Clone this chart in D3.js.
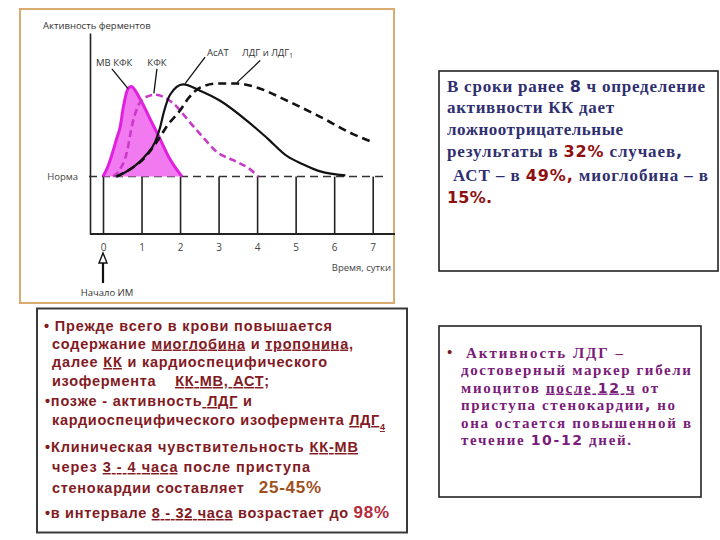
<!DOCTYPE html>
<html><head><meta charset="utf-8">
<script src="https://cdn.jsdelivr.net/npm/d3@7"></script>
<style>body{margin:0;background:#fff}</style>
</head><body>
<svg id="c" width="720" height="540"></svg>
<script>
// ---------- data ----------
const dayTicks = [0, 1, 2, 3, 4, 5, 6, 7];
const normLevel = 20;

const mbDays = [0, 0.13, 0.35, 0.45, 0.52, 0.65, 0.73, 0.96, 1.22, 1.48, 1.74, 2.05];
const mbVals = [20, 23.6, 33, 37.6, 43.6, 50.6, 51.4, 47.1, 40.1, 33.1, 26.0, 20];

const ckDays = [0.26, 0.44, 0.62, 0.75, 0.88, 1.04, 1.35, 1.66, 1.92, 2.18, 2.57, 2.96, 3.38, 3.82, 4.03];
const ckVals = [20, 22.5, 28.5, 37.6, 43.6, 47.1, 48.5, 47.1, 44.3, 40.1, 34.1, 28.5, 25.7, 22.5, 20];

const astDays = [0.36, 0.70, 1.09, 1.35, 1.48, 1.58, 1.74, 2.08, 2.52, 3.04, 3.74, 4.26, 4.78, 5.19, 5.64, 6.29];
const astVals = [20, 22.5, 27.1, 32.0, 37.0, 42.5, 48.5, 52.1, 49.9, 46.4, 39.4, 33.4, 27.1, 24.3, 21.8, 20.4];

const ldgDays = [0.34, 0.70, 1.04, 1.48, 1.66, 2.0, 2.2, 2.52, 2.96, 3.48, 3.90, 4.78, 5.64, 6.49, 6.99];
const ldgVals = [20, 22.5, 26.0, 33.8, 37.6, 43.0, 47.0, 51.0, 52.4, 52.4, 51.4, 46.4, 40.8, 34.8, 32.0];

const seriesNames = ["МВ КФК", "КФК", "АсАТ", "ЛДГ и ЛДГ"];
const yAxisTitle = "Активность ферментов";
const xAxisTitle = "Время, сутки";
const normLabel = "Норма";
const onsetLabel = "Начало ИМ";

// ---------- setup ----------
const svg = d3.select('#c');
svg.append('rect').attr('width', 720).attr('height', 540).attr('fill', '#fff');

// chart frame
svg.append('rect').attr('x', 20).attr('y', 9).attr('width', 374).attr('height', 294)
  .attr('fill', '#fff').attr('stroke', '#d9ab70').attr('stroke-width', 2);

const x = d3.scaleLinear().domain([0, 7]).range([103, 372.7]);
const y = d3.scaleLinear().domain([0, 70]).range([234, 33]);
const chartFont = "'Open Sans', 'DejaVu Sans', sans-serif";

const g = svg.append('g');

// x axis with ticks rising to the norm line
const xAxis = d3.axisBottom(x).tickValues(dayTicks).tickFormat(d3.format('d'))
  .tickSizeInner(-(y(0) - y(normLevel))).tickSizeOuter(0).tickPadding(10);
const xg = g.append('g').attr('transform', `translate(0,${y(0)})`).call(xAxis);
xg.select('.domain').remove();
xg.selectAll('.tick line').attr('stroke', '#222').attr('stroke-width', 1.6);
xg.selectAll('.tick text').attr('font-family', chartFont).attr('font-size', 10).attr('fill', '#444');
g.append('line').attr('x1', 90).attr('x2', 395).attr('y1', y(0)).attr('y2', y(0))
  .attr('stroke', '#222').attr('stroke-width', 2);

// y axis
const yAxis = d3.axisLeft(y).tickValues([]).tickSizeOuter(0);
const yg = g.append('g').attr('transform', 'translate(90,0)').call(yAxis);
yg.select('.domain').attr('stroke', '#222').attr('stroke-width', 1.6);

// norm line
g.append('line').attr('x1', 89).attr('x2', 384).attr('y1', y(normLevel)).attr('y2', y(normLevel))
  .attr('stroke', '#333').attr('stroke-width', 1.6).attr('stroke-dasharray', '8,5');
g.append('text').attr('x', 78).attr('y', y(normLevel)).attr('dy', '0.35em').attr('text-anchor', 'end')
  .attr('font-family', chartFont).attr('font-size', 9.5).attr('fill', '#444').text(normLabel);

// axis titles
g.append('text').attr('x', 43).attr('y', 29).attr('font-family', chartFont).attr('font-size', 9.5)
  .attr('fill', '#333').text(yAxisTitle);
g.append('text').attr('x', 391).attr('y', 271).attr('text-anchor', 'end').attr('font-family', chartFont)
  .attr('font-size', 9.5).attr('fill', '#444').text(xAxisTitle);

// onset arrow
const ax = x(0);
g.append('line').attr('x1', ax).attr('x2', ax).attr('y1', 262).attr('y2', 283).attr('stroke', '#111').attr('stroke-width', 2.2);
g.append('path').attr('d', `M${ax - 4},263 L${ax},253 L${ax + 4},263 Z`).attr('fill', '#fff').attr('stroke', '#111').attr('stroke-width', 1.4);
g.append('text').attr('x', ax + 4).attr('y', 296).attr('text-anchor', 'middle').attr('font-family', chartFont)
  .attr('font-size', 9.5).attr('fill', '#333').text(onsetLabel);

// ---------- curves ----------
const toPts = (ds, vs) => ds.map((d, i) => [d, vs[i]]);
const line = d3.line().x(d => x(d[0])).y(d => y(d[1])).curve(d3.curveMonotoneX);
const area = d3.area().x(d => x(d[0])).y0(y(normLevel)).y1(d => y(d[1])).curve(d3.curveMonotoneX);

const mbPts = toPts(mbDays, mbVals);
g.append('path').attr('d', area(mbPts)).attr('fill', '#f27af0');
g.append('path').attr('d', line(mbPts)).attr('fill', 'none').attr('stroke', '#e020de').attr('stroke-width', 3);

g.append('path').attr('d', line(toPts(ckDays, ckVals))).attr('fill', 'none')
  .attr('stroke', '#c93ac9').attr('stroke-width', 2.6).attr('stroke-dasharray', '7,4');
g.append('path').attr('d', line(toPts(astDays, astVals))).attr('fill', 'none')
  .attr('stroke', '#111').attr('stroke-width', 2.2);
g.append('path').attr('d', line(toPts(ldgDays, ldgVals))).attr('fill', 'none')
  .attr('stroke', '#111').attr('stroke-width', 2.6).attr('stroke-dasharray', '8,5');

// series labels with leader lines (data coordinates)
const annots = [
  {name: seriesNames[0], tx: 0.29, ty: 58.6, from: [0.23, 57.5], to: [0.65, 50.6]},
  {name: seriesNames[1], tx: 1.40, ty: 58.6, from: [1.40, 57.5], to: [1.32, 49.0]},
  {name: seriesNames[2], tx: 2.98, ty: 62.0, from: [2.65, 61.6], to: [2.13, 52.4]},
  {name: seriesNames[3], tx: 4.27, ty: 62.0, from: [4.08, 60.4], to: [3.48, 52.8], sub: "1"}
];
annots.forEach(a => {
  g.append('line').attr('x1', x(a.from[0])).attr('y1', y(a.from[1])).attr('x2', x(a.to[0])).attr('y2', y(a.to[1]))
    .attr('stroke', '#111').attr('stroke-width', 1.3);
  const t = g.append('text').attr('x', x(a.tx)).attr('y', y(a.ty)).attr('text-anchor', 'middle')
    .attr('font-family', chartFont).attr('font-size', 9.5).attr('fill', '#333');
  t.append('tspan').text(a.name);
  if (a.sub) t.append('tspan').attr('font-size', 6.5).attr('dy', 2).text(a.sub);
});

// ---------- text boxes ----------
function textLine(parent, xx, yy, segs, base, width) {
  const t = parent.append('text').attr('x', xx).attr('y', yy)
    .attr('font-family', base.font).attr('font-size', base.size).attr('font-weight', 'bold')
    .attr('fill', base.fill).style('white-space', 'pre');
  segs.forEach(s => {
    const ts = t.append('tspan').text(s.t);
    if (s.u) ts.attr('text-decoration', 'underline');
    if (s.font) ts.attr('font-family', s.font);
    if (s.size) ts.attr('font-size', s.size);
    if (s.fill) ts.attr('fill', s.fill);
    if (s.sub) ts.attr('baseline-shift', 'sub');
  });
  if (width) t.attr('textLength', width).attr('lengthAdjust', 'spacing');
  return t;
}

// left box
svg.append('rect').attr('x', 37).attr('y', 308.5).attr('width', 370).attr('height', 224)
  .attr('fill', '#fff').attr('stroke', '#3a3a3a').attr('stroke-width', 2);
const lb = {font: "'Liberation Sans', Arial, sans-serif", size: 14.5, fill: '#821a1f'};
const c1 = '#a0501c', c2 = '#b42a3a';
const leftLines = [
  [44, 330.5, 288, [{t: '• Прежде всего в крови повышается'}]],
  [52, 348.5, 301, [{t: 'содержание '}, {t: 'миоглобина', u: 1}, {t: ' и '}, {t: 'тропонина', u: 1}, {t: ','}]],
  [52, 367, 275, [{t: 'далее '}, {t: 'КК', u: 1}, {t: ' и кардиоспецифического'}]],
  [52, 386, 217, [{t: 'изофермента    '}, {t: 'КК-МВ, АСТ', u: 1}, {t: ';'}]],
  [45, 406, 207, [{t: '•позже - активность'}, {t: ' ЛДГ', u: 1}, {t: ' и'}]],
  [52, 425, 333, [{t: 'кардиоспецифического изофермента '}, {t: 'ЛДГ', u: 1}, {t: '4', u: 1, sub: 1, size: 9}]],
  [45, 452, 313, [{t: '•Клиническая чувствительность '}, {t: 'КК-МВ', u: 1}]],
  [52, 472, 258, [{t: 'через '}, {t: '3 - 4 часа', u: 1}, {t: ' после приступа'}]],
  [52, 493, 269, [{t: 'стенокардии составляет   '}, {t: '25-45%', size: 17, fill: c1}]],
  [45, 518, 344, [{t: '•в интервале '}, {t: '8 - 32 часа', u: 1}, {t: ' возрастает до '}, {t: '98%', size: 17, fill: c2}]]
];
leftLines.forEach(l => textLine(svg, l[0], l[1], l[3], lb, l[2]));

// right top box
svg.append('rect').attr('x', 439).attr('y', 71).attr('width', 279).attr('height', 200)
  .attr('fill', '#fff').attr('stroke', '#222').attr('stroke-width', 1.6);
const rt = {font: "'Liberation Serif', 'Times New Roman', serif", size: 17, fill: '#2f2f70'};
const numFont = "'DejaVu Sans', sans-serif";
const red = '#8e1010';
const rtLines = [
  [447, 92, 258, [{t: 'В сроки ранее '}, {t: '8', font: numFont, size: 16}, {t: ' ч определение'}]],
  [447, 113, 167, [{t: 'активности КК дает'}]],
  [447, 135, 176, [{t: 'ложноотрицательные'}]],
  [447, 157, 235, [{t: 'результаты в '}, {t: '32%', font: numFont, size: 16, fill: red}, {t: ' случаев'}, {t: ',', font: numFont, size: 16}]],
  [453, 181, 255, [{t: 'АСТ – в '}, {t: '49%,', font: numFont, size: 16, fill: red}, {t: ' миоглобина – в'}]],
  [447, 203, 45, [{t: '15%.', font: numFont, size: 16, fill: red}]]
];
rtLines.forEach(l => textLine(svg, l[0], l[1], l[3], rt, l[2]));

// right bottom box
svg.append('rect').attr('x', 439).attr('y', 326).attr('width', 262).attr('height', 171)
  .attr('fill', '#fff').attr('stroke', '#222').attr('stroke-width', 1.6);
const rb = {font: "'Liberation Serif', 'Times New Roman', serif", size: 15, fill: '#7a1c7a'};
svg.append('text').attr('x', 447).attr('y', 357).attr('font-family', rb.font).attr('font-size', 15)
  .attr('font-weight', 'bold').attr('fill', '#7a1a1a').text('•');
const rbLines = [
  [466, 357.5, 157, [{t: 'Активность ЛДГ –'}]],
  [461, 375, 230, [{t: 'достоверный маркер гибели'}]],
  [461, 392.5, 197, [{t: 'миоцитов '}, {t: 'после ', u: 1}, {t: '12', u: 1, font: numFont, size: 14}, {t: ' ч', u: 1}, {t: ' от'}]],
  [461, 410, 214, [{t: 'приступа стенокардии'}, {t: ',', font: numFont, size: 14}, {t: ' но'}]],
  [461, 427.5, 230, [{t: 'она остается повышенной в'}]],
  [461, 445, 170, [{t: 'течение '}, {t: '10-12', font: numFont, size: 14}, {t: ' дней.'}]]
];
rbLines.forEach(l => textLine(svg, l[0], l[1], l[3], rb, l[2]));
</script>
</body></html>
